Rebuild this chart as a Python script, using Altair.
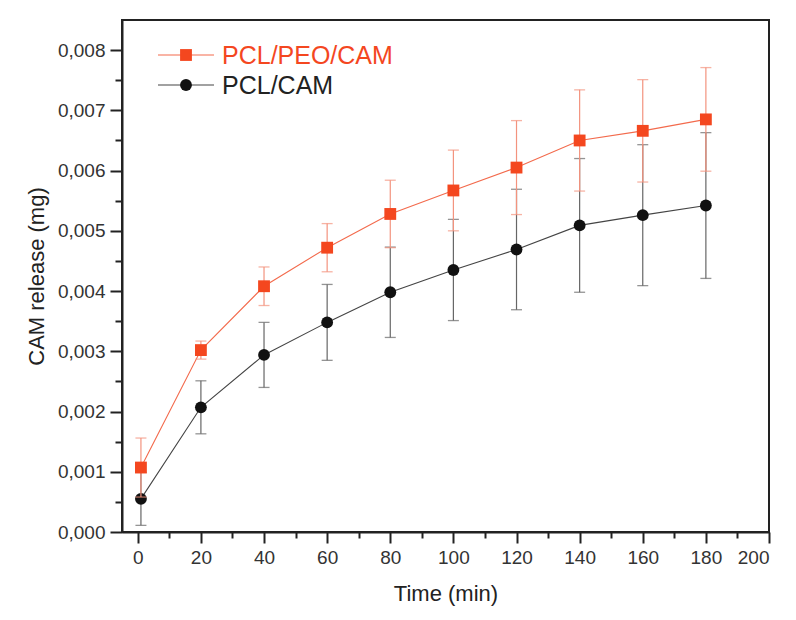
import altair as alt
import pandas as pd

# ---- data ----
time_min = [1, 20, 40, 60, 80, 100, 120, 140, 160, 180]
peo_mean = [0.00107, 0.00302, 0.00408, 0.00472, 0.00528, 0.00567, 0.00605, 0.00650, 0.00666, 0.00685]
peo_err = [0.00049, 0.00015, 0.00032, 0.00040, 0.00056, 0.00067, 0.00078, 0.00084, 0.00085, 0.00086]
pcl_mean = [0.00055, 0.00207, 0.00294, 0.00348, 0.00398, 0.00435, 0.00469, 0.00509, 0.00526, 0.00542]
pcl_err = [0.00044, 0.00044, 0.00054, 0.00063, 0.00075, 0.00084, 0.00100, 0.00111, 0.00117, 0.00121]
series_names = ["PCL/PEO/CAM", "PCL/CAM"]
x_ticks = list(range(0, 201, 10))
y_ticks = [i * 0.0005 for i in range(17)]

RED = "#f4471f"
RED_LINE = "#f36a4c"
RED_ERR = "#f3937e"
BLACK = "#111111"
BLACK_LINE = "#444444"
BLACK_ERR = "#666666"
FONT = "Liberation Sans"

def frame(mean, err):
    df = pd.DataFrame({"t": time_min, "m": mean, "e": err})
    df["lo"] = df["m"] - df["e"]
    df["hi"] = df["m"] + df["e"]
    return df

df_peo = frame(peo_mean, peo_err)
df_pcl = frame(pcl_mean, pcl_err)

x_axis = alt.Axis(
    values=x_ticks,
    labelExpr="datum.value % 20 === 0 ? datum.label : ''",
    tickSize={"condition": {"test": "datum.value % 20 === 0", "value": 11}, "value": 6},
    title="Time (min)",
    grid=False,
)
y_axis = alt.Axis(
    values=y_ticks,
    labelExpr="round(datum.value*2000) % 2 === 0 ? replace(format(datum.value, '.3f'), '.', ',') : ''",
    tickSize={"condition": {"test": "round(datum.value*2000) % 2 === 0", "value": 12}, "value": 7},
    title="CAM release (mg)",
    grid=False,
)
xs = alt.Scale(domain=[-5, 200], nice=False, zero=False)
ys = alt.Scale(domain=[0, 0.0085], nice=False)


def series_layers(df, line_color, err_color, pt_color, shape, size):
    base = alt.Chart(df)
    X = alt.X("t:Q", scale=xs, axis=x_axis, title="Time (min)")
    Y = alt.Y("m:Q", scale=ys, axis=y_axis, title="CAM release (mg)")
    line = base.mark_line(color=line_color, strokeWidth=1.1).encode(x=X, y=Y)
    bar = base.mark_rule(color=err_color, strokeWidth=1.2).encode(
        x=X, y=alt.Y("lo:Q", scale=ys, axis=y_axis, title="CAM release (mg)"), y2="hi:Q")
    cap_lo = base.mark_tick(color=err_color, size=11, thickness=1.3, orient="horizontal").encode(
        x=X, y=alt.Y("lo:Q", scale=ys, axis=y_axis, title="CAM release (mg)"))
    cap_hi = base.mark_tick(color=err_color, size=11, thickness=1.3, orient="horizontal").encode(
        x=X, y=alt.Y("hi:Q", scale=ys, axis=y_axis, title="CAM release (mg)"))
    pts = base.mark_point(shape=shape, filled=True, size=size, color=pt_color, opacity=1).encode(
        x=X, y=Y)
    return [line, bar, cap_lo, cap_hi, pts]


layers = []
layers += series_layers(df_pcl, BLACK_LINE, BLACK_ERR, BLACK, "circle", 140)
layers += series_layers(df_peo, RED_LINE, RED_ERR, RED, "square", 140)

# ---- manual legend ----
leg_specs = [
    (series_names[0], RED_LINE, RED, "square", 35),
    (series_names[1], BLACK_LINE, BLACK, "circle", 65),
]
for name, lc, pc, shp, yy in leg_specs:
    ld = pd.DataFrame({"name": [name]})
    lb = alt.Chart(ld)
    layers.append(lb.mark_rule(color=lc, strokeWidth=1.1).encode(
        x=alt.value(36), x2=alt.value(92), y=alt.value(yy)))
    layers.append(lb.mark_point(shape=shp, filled=True, size=140, color=pc, opacity=1).encode(
        x=alt.value(64), y=alt.value(yy)))
    layers.append(lb.mark_text(align="left", baseline="middle", font=FONT, fontSize=25,
                               color=pc if shp == "square" else "#222222").encode(
        x=alt.value(100), y=alt.value(yy + 1), text="name:N"))

chart = alt.layer(*layers).properties(
    width=647, height=512,
    padding={"left": 17, "top": 12, "right": 10, "bottom": 10},
).configure_view(
    stroke="#222222", strokeWidth=2
).configure_axis(
    domainColor="#222222", domainWidth=2,
    tickColor="#222222", tickWidth=2,
    labelFont=FONT, labelFontSize=19, labelColor="#333333", labelPadding=5,
    titleFont=FONT, titleFontSize=22, titleFontWeight="normal", titleColor="#222222",
).configure_axisY(titlePadding=9).configure_axisX(titlePadding=16)

chart.save("out.html", embed_options={"renderer": "svg", "actions": False})
